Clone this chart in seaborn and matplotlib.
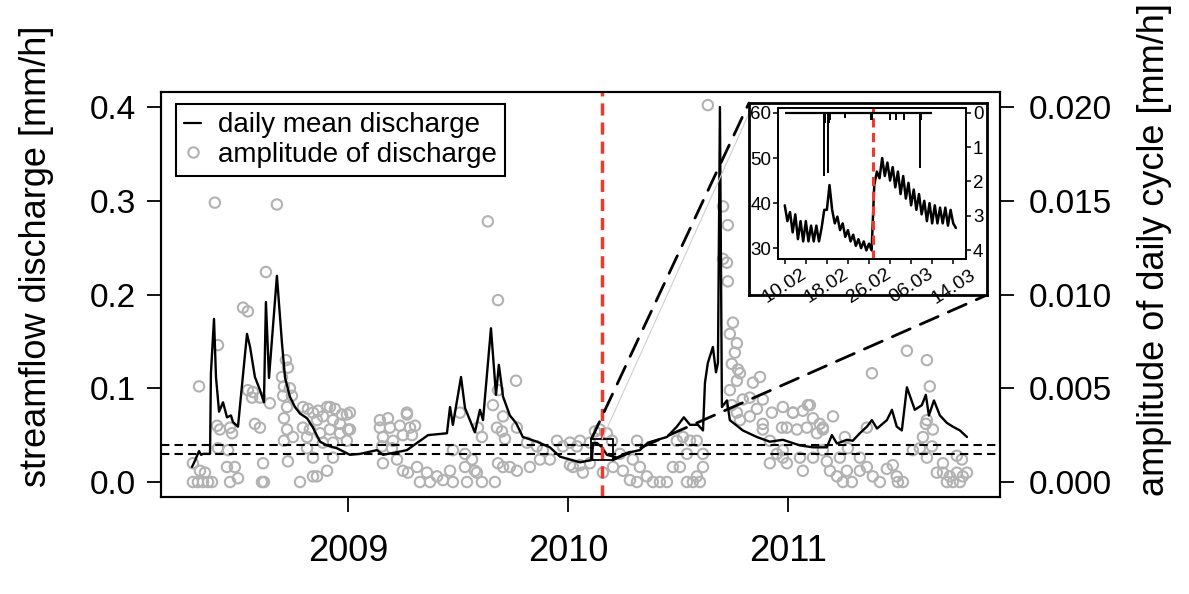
import numpy as np
import pandas as pd
import matplotlib
matplotlib.use("Agg")
import matplotlib.pyplot as plt
import seaborn as sns
from matplotlib.patches import Rectangle, ConnectionPatch
from matplotlib.lines import Line2D

# ---------------- data ----------------
# daily mean discharge [mm/h], time in decimal years
q_year = [2008.291, 2008.305, 2008.323, 2008.332, 2008.341, 2008.368, 2008.373, 2008.377, 2008.391, 2008.400,
          2008.414, 2008.432, 2008.450, 2008.468, 2008.477, 2008.500, 2008.541, 2008.555, 2008.577, 2008.600,
          2008.618, 2008.627, 2008.641, 2008.677, 2008.700, 2008.714, 2008.736, 2008.759, 2008.782, 2008.814,
          2008.841, 2008.873, 2008.905, 2008.950, 2009.009, 2009.055, 2009.132, 2009.159, 2009.205, 2009.268,
          2009.364, 2009.450, 2009.464, 2009.477, 2009.514, 2009.532, 2009.577, 2009.600, 2009.614, 2009.650,
          2009.673, 2009.686, 2009.705, 2009.736, 2009.764, 2009.795, 2009.859, 2009.918, 2009.964, 2010.055,
          2010.109, 2010.114, 2010.132, 2010.155, 2010.177, 2010.223, 2010.268, 2010.327, 2010.364, 2010.450,
          2010.495, 2010.527, 2010.555, 2010.591, 2010.614, 2010.623, 2010.636, 2010.659, 2010.673, 2010.682,
          2010.691, 2010.700, 2010.723, 2010.736, 2010.795, 2010.859, 2010.918, 2010.977, 2011.055, 2011.114,
          2011.177, 2011.200, 2011.223, 2011.268, 2011.295, 2011.327, 2011.359, 2011.382, 2011.405, 2011.450,
          2011.473, 2011.495, 2011.518, 2011.541, 2011.577, 2011.609, 2011.627, 2011.641, 2011.664, 2011.691,
          2011.723, 2011.750, 2011.782, 2011.814]
q_val = [0.016, 0.023, 0.033, 0.029, 0.030, 0.030, 0.030, 0.116, 0.174, 0.112,
         0.075, 0.085, 0.069, 0.071, 0.064, 0.059, 0.158, 0.144, 0.112, 0.098,
         0.085, 0.192, 0.111, 0.220, 0.148, 0.111, 0.091, 0.080, 0.073, 0.068,
         0.058, 0.043, 0.039, 0.036, 0.029, 0.030, 0.034, 0.029, 0.031, 0.034,
         0.050, 0.052, 0.080, 0.061, 0.112, 0.079, 0.053, 0.077, 0.066, 0.164,
         0.093, 0.125, 0.091, 0.071, 0.063, 0.048, 0.043, 0.037, 0.027, 0.021,
         0.0235, 0.0416, 0.0416, 0.037, 0.029, 0.026, 0.031, 0.034, 0.042, 0.048,
         0.059, 0.069, 0.061, 0.061, 0.055, 0.106, 0.127, 0.144, 0.117, 0.127,
         0.400, 0.080, 0.087, 0.066, 0.055, 0.048, 0.043, 0.045, 0.039, 0.037,
         0.037, 0.050, 0.041, 0.045, 0.044, 0.052, 0.059, 0.066, 0.057, 0.066,
         0.077, 0.059, 0.055, 0.101, 0.077, 0.082, 0.093, 0.071, 0.087, 0.071,
         0.063, 0.059, 0.055, 0.048]

# amplitude of the daily discharge cycle [mm/h], time in decimal years
amp_year_2008 = [2008.395, 2008.677, 2008.627, 2008.523, 2008.545, 2008.409, 2008.323,
                 2008.718, 2008.727, 2008.700, 2008.709, 2008.736, 2008.745, 2008.545, 2008.568, 2008.564,
                 2008.600, 2008.645, 2008.705, 2008.723,
                 2008.405, 2008.418, 2008.464, 2008.473, 2008.577, 2008.600, 2008.709, 2008.723, 2008.709,
                 2008.750, 2008.409, 2008.455, 2008.614, 2008.727, 2008.450, 2008.486, 2008.295, 2008.327, 2008.350,
                 2008.295, 2008.318, 2008.341, 2008.364, 2008.382, 2008.464, 2008.500, 2008.609, 2008.618,
                 2008.782, 2008.841, 2008.859, 2008.905, 2008.932, 2008.841, 2008.814,
                 2008.795, 2008.818, 2008.841, 2008.864, 2008.905, 2008.918, 2008.941, 2008.973, 2008.995,
                 2008.859, 2008.886, 2008.932, 2008.964, 2009.000, 2008.795, 2008.827, 2008.873, 2008.918,
                 2008.964, 2008.995, 2008.886, 2008.932, 2008.814]
amp_val_2008 = [0.0149, 0.0148, 0.0112, 0.0093, 0.0091, 0.0073, 0.0051,
                0.0065, 0.0061, 0.0056, 0.0051, 0.0050, 0.0046, 0.0049, 0.0048, 0.0045,
                0.0045, 0.0042, 0.0046, 0.0040,
                0.0030, 0.0028, 0.0029, 0.0026, 0.0031, 0.0029, 0.0034, 0.0028, 0.0022,
                0.0024, 0.0018, 0.0017, 0.0010, 0.0011, 0.0008, 0.0008, 0.0010, 0.0006, 0.0005,
                0.0, 0.0, 0.0, 0.0, 0.0, 0.0, 0.0002, 0.0, 0.0,
                0.0, 0.0003, 0.0003, 0.0006, 0.0013, 0.0013, 0.0018,
                0.0040, 0.0039, 0.0037, 0.0038, 0.0040, 0.0040, 0.0039, 0.0036, 0.0036,
                0.0033, 0.0035, 0.0033, 0.0031, 0.0028, 0.0029, 0.0028, 0.0026, 0.0028,
                0.0026, 0.0022, 0.0021, 0.0021, 0.0024]

amp_year_2009 = [2009.009, 2009.009, 2009.145, 2009.182, 2009.191, 2009.236, 2009.268, 2009.282, 2009.305,
                 2009.159, 2009.205, 2009.250, 2009.291, 2009.155, 2009.200, 2009.159, 2009.223, 2009.268, 2009.145,
                 2009.250, 2009.273, 2009.314, 2009.327, 2009.359, 2009.373, 2009.405, 2009.432, 2009.464,
                 2009.477, 2009.541, 2009.532, 2009.564, 2009.577, 2009.609, 2009.586, 2009.477, 2009.532,
                 2009.636, 2009.682, 2009.764, 2009.682,
                 2009.509, 2009.609, 2009.591, 2009.659, 2009.677, 2009.700, 2009.705, 2009.714, 2009.768,
                 2009.668, 2009.682, 2009.705, 2009.736, 2009.768, 2009.814, 2009.859, 2009.886, 2009.950,
                 2009.977, 2010.009, 2010.055, 2009.827, 2009.873, 2009.918]
amp_val_2009 = [0.0037, 0.0028, 0.0029, 0.0034, 0.0029, 0.0030, 0.0036, 0.0029, 0.0030,
                0.0024, 0.0022, 0.0025, 0.0025, 0.0019, 0.0018, 0.0010, 0.0012, 0.0037, 0.0033,
                0.0006, 0.0005, 0.0008, 0.0, 0.0005, 0.0, 0.0003, 0.0001, 0.0006,
                0.0, 0.0, 0.0008, 0.0012, 0.0006, 0.0, 0.0005, 0.0017, 0.0015,
                0.0139, 0.0097, 0.0054, 0.0049,
                0.0037, 0.0024, 0.0029, 0.0041, 0.0029, 0.0027, 0.0035, 0.0023, 0.0029,
                0.0, 0.0010, 0.0008, 0.0008, 0.0006, 0.0021, 0.0019, 0.0017, 0.0022,
                0.0019, 0.0009, 0.0009, 0.0008, 0.0012, 0.0012]

amp_year_2010 = [2010.009, 2010.041, 2010.023, 2010.068, 2010.100, 2010.145, 2010.177, 2010.159,
                 2010.205, 2010.236, 2010.250, 2010.295, 2010.282, 2010.327, 2010.314, 2010.359,
                 2010.386, 2010.418, 2010.450, 2010.314, 2010.055, 2010.100, 2010.123, 2010.200,
                 2010.495, 2010.523, 2010.555, 2010.586, 2010.541, 2010.614, 2010.477, 2010.509,
                 2010.614, 2010.541, 2010.568, 2010.600, 2010.586,
                 2010.636, 2010.705, 2010.727, 2010.705, 2010.723, 2010.727, 2010.750, 2010.736,
                 2010.768, 2010.759, 2010.745, 2010.773, 2010.768, 2010.782, 2010.736, 2010.745,
                 2010.768, 2010.782, 2010.795, 2010.841, 2010.873, 2010.827, 2010.859, 2010.886,
                 2010.827, 2010.886, 2010.927, 2010.973,
                 2010.886, 2010.918, 2010.950, 2010.918, 2010.977, 2010.995]
amp_val_2010 = [0.0021, 0.0019, 0.0008, 0.0005, 0.0010, 0.0028, 0.0026, 0.0005,
                0.0008, 0.0015, 0.0006, 0.0012, 0.0001, 0.0008, 0.0, 0.0003,
                0.0, 0.0, 0.0, 0.0022, 0.0022, 0.0021, 0.0027, 0.0022,
                0.0022, 0.0024, 0.0022, 0.0022, 0.0015, 0.0015, 0.0008, 0.0008,
                0.0008, 0.0, 0.0, 0.0, 0.0003,
                0.0201, 0.0147, 0.0137, 0.0119, 0.0117, 0.0107, 0.0085, 0.0079,
                0.0074, 0.0069, 0.0063, 0.0060, 0.0054, 0.0058, 0.0049, 0.0041,
                0.0037, 0.0033, 0.0044, 0.0053, 0.0056, 0.0045, 0.0039, 0.0044,
                0.0035, 0.0031, 0.0037, 0.0029,
                0.0028, 0.0022, 0.0015, 0.0010, 0.0013, 0.0010]

amp_year_2011 = [2011.023, 2011.100, 2011.159, 2011.205,
                 2011.382, 2011.541, 2011.632, 2011.645, 2011.627,
                 2010.977, 2011.023, 2011.068, 2011.091, 2011.114, 2011.145, 2010.995, 2011.041, 2011.086,
                 2011.132, 2011.159, 2010.977, 2011.055, 2011.068, 2011.114, 2011.159, 2011.177,
                 2011.191, 2011.223, 2011.250, 2011.291, 2011.268, 2011.327, 2011.359, 2011.386, 2011.418,
                 2011.450, 2011.477, 2011.495, 2011.523, 2011.500, 2011.236, 2011.327, 2011.259, 2011.273,
                 2011.359,
                 2011.600, 2011.632, 2011.655, 2011.632, 2011.659, 2011.614, 2011.568, 2011.677, 2011.705,
                 2011.736, 2011.768, 2011.795, 2011.814, 2011.723, 2011.750, 2011.782, 2011.705, 2011.791,
                 2011.768]
amp_val_2011 = [0.0037, 0.0041, 0.0029, 0.0035,
                0.0058, 0.0070, 0.0065, 0.0051, 0.0031,
                0.0040, 0.0037, 0.0038, 0.0041, 0.0034, 0.0031, 0.0029, 0.0028, 0.0029,
                0.0026, 0.0028, 0.0017, 0.0013, 0.0006, 0.0013, 0.0017, 0.0011,
                0.0006, 0.0003, 0.0, 0.0, 0.0006, 0.0006, 0.0008, 0.0003, 0.0,
                0.0007, 0.0009, 0.0003, 0.0, 0.0, 0.0013, 0.0013, 0.0024, 0.0018,
                0.0029,
                0.0018, 0.0013, 0.0019, 0.0033, 0.0028, 0.0024, 0.0017, 0.0005, 0.0005,
                0.0003, 0.0005, 0.0003, 0.0005, 0.0, 0.0, 0.0, 0.0010, 0.0012,
                0.0014]

threshold_levels = [0.03, 0.04]          # horizontal dashed reference levels
event_time = "2010-02-26 16:00"          # red dashed marker

# inset: discharge sampled every 12 h from 10.02.2010 (l/s) and rainfall (mm)
inset_start = "2010-02-10 00:00"
inset_q = [39.5, 36.0, 38.0, 33.5, 37.5, 32.0, 36.0, 31.5, 36.0, 31.5, 35.0, 31.5, 35.0, 31.5,
           34.5, 38.5, 38.5, 44.0, 38.5, 35.5, 37.0, 34.0, 35.5, 32.5, 34.0, 31.5, 33.0, 30.5,
           32.0, 30.0, 31.5, 29.5, 31.0, 29.5, 44.0, 47.0, 45.5, 50.0, 46.0, 49.0, 45.0, 48.0,
           43.5, 47.0, 42.0, 46.0, 41.0, 44.5, 39.5, 43.0, 38.5, 42.0, 37.5, 40.5, 36.0, 40.0,
           35.5, 39.5, 35.5, 39.0, 35.5, 39.0, 35.0, 38.5, 35.5, 34.5]
rain_day = [7.4, 7.55, 8.25, 8.4, 8.55, 11.4, 16.3, 16.5, 20.0, 21.2, 22.6, 25.6, 25.8]
rain_mm = [1.85, 0.3, 1.75, 0.3, 0.2, 0.15, 0.2, 0.2, 0.2, 0.2, 0.2, 1.6, 0.2]
rain_record_days = [0.0, 27.9]
inset_range = ["2010-02-08 17:00", "2010-03-16 10:00"]
inset_tick_dates = ["2010-02-10", "2010-02-18", "2010-02-26", "2010-03-06", "2010-03-14"]
inset_tick_labels = ["10.02", "18.02", "26.02", "06.03", "14.03"]
inset_minor_dates = ["2010-02-14", "2010-02-22", "2010-03-02", "2010-03-10"]
zoom_q_range = [0.0235, 0.0455]         # discharge range of the inset in mm/h

year_ticks = [2009, 2010, 2011]
q_ticks = [0.0, 0.1, 0.2, 0.3, 0.4]
amp_ticks = [0.0, 0.005, 0.010, 0.015, 0.020]

# ---------------- helpers ----------------
def dec_year(ts):
    ts = pd.Timestamp(ts)
    ndays = 366 if ts.is_leap_year else 365
    return ts.year + (ts.dayofyear - 1 + (ts.hour + ts.minute / 60) / 24) / ndays

amp_year = amp_year_2008 + amp_year_2009 + amp_year_2010 + amp_year_2011
amp_val = amp_val_2008 + amp_val_2009 + amp_val_2010 + amp_val_2011

GRAY = "#b2b2b2"
RED = "#ee3a2a"

sns.set_theme(style="ticks")
plt.rcParams['font.family'] = ['Liberation Sans', 'DejaVu Sans']
for k in ('text.color', 'axes.labelcolor', 'xtick.color', 'ytick.color', 'axes.edgecolor'):
    plt.rcParams[k] = 'black'

fig = plt.figure(figsize=(11.89, 5.94), dpi=100)
ax = fig.add_axes([0.1354, 0.1633, 0.7056, 0.6818])
ax2 = ax.twinx()

# amplitude circles (right axis)
sns.scatterplot(x=amp_year, y=amp_val, ax=ax2, marker='o', s=56, legend=False)
pts = ax2.collections[-1]
pts.set_facecolor('none')
pts.set_edgecolor(GRAY)
pts.set_linewidth(1.5)

# discharge line (left axis)
sns.lineplot(x=q_year, y=q_val, ax=ax, color='black', linewidth=1.7,
             estimator=None, sort=False, legend=False)
for lev in threshold_levels:
    ax.axhline(lev, color='black', lw=1.5, ls=(0, (4, 2.5)))
ev_dec = dec_year(event_time)
ax.axvline(ev_dec, color=RED, lw=2.5, ls=(0, (3.5, 2)))

bx0, bx1 = dec_year(inset_range[0]), dec_year(inset_range[1])
by0, by1 = zoom_q_range
ax.add_patch(Rectangle((bx0, by0), bx1 - bx0, by1 - by0, fill=False, ec='black', lw=1.3, zorder=4))

ax.set_zorder(ax2.get_zorder() + 1)
ax.patch.set_visible(False)

ax.set_xlim(2008.150, 2011.964)
ax.set_ylim(-0.016, 0.416)
ax2.set_ylim(-0.0008, 0.0208)
ax.set_xticks(year_ticks)
ax.set_xticklabels([str(y) for y in year_ticks])
ax.set_yticks(q_ticks)
ax.set_yticklabels([f"{v:.1f}" for v in q_ticks])
ax2.set_yticks(amp_ticks)
ax2.set_yticklabels([f"{v:.3f}" for v in amp_ticks])

for a in (ax, ax2):
    for s in a.spines.values():
        s.set_color('black')
        s.set_linewidth(1.5)
ax.tick_params(axis='x', length=11, width=1.3, labelsize=26, pad=16, color='black', top=False)
ax.tick_params(axis='y', length=10, width=1.3, labelsize=24, pad=8, color='black', right=False)
ax2.tick_params(axis='y', length=10, width=1.3, labelsize=24, pad=11, color='black')

ax.set_xlabel("")
ax.set_ylabel("streamflow discharge [mm/h]", fontsize=26)
ax.yaxis.set_label_coords(-0.1275, 0.595)
ax2.set_ylabel("amplitude of daily cycle [mm/h]", fontsize=26)
ax2.yaxis.set_label_coords(1.163, 0.61)

handles = [Line2D([], [], color='black', lw=1.6),
           Line2D([], [], ls='none', marker='o', mfc='none', mec=GRAY, ms=7.5, mew=1.5)]
leg = ax.legend(handles, ["daily mean discharge", "amplitude of discharge"],
                loc='upper left', bbox_to_anchor=(0.0179, 0.970), fontsize=20,
                frameon=True, fancybox=False, edgecolor='black', framealpha=1,
                borderpad=0.3, labelspacing=0.12, handlelength=0.6, handletextpad=0.6,
                borderaxespad=0)
leg.get_frame().set_linewidth(1.5)

# ---------------- inset ----------------
frame = fig.add_axes([0.6299, 0.5034, 0.2002, 0.3232])
frame.set_xticks([])
frame.set_yticks([])
frame.set_facecolor('white')
for s in frame.spines.values():
    s.set_color('black')
    s.set_linewidth(2)
frame.set_zorder(10)

axi = fig.add_axes([0.6543, 0.5640, 0.1581, 0.2542])
axi.set_zorder(11)
axr = axi.twinx()
axr.set_zorder(12)
axr.patch.set_visible(False)

inset_time = pd.date_range(inset_start, periods=len(inset_q), freq="12h")
sns.lineplot(x=inset_time, y=inset_q, ax=axi, color='black', linewidth=1.8,
             estimator=None, legend=False)
axi.axvline(pd.Timestamp(event_time), color=RED, lw=2.2, ls=(0, (3, 1.8)))

t0 = pd.Timestamp(inset_start)
rain_time = [t0 + pd.Timedelta(days=d) for d in rain_day]
axr.vlines(rain_time, 0, rain_mm, color='black', lw=1.4)
axr.hlines(0, t0 + pd.Timedelta(days=rain_record_days[0]),
           t0 + pd.Timedelta(days=rain_record_days[1]), color='black', lw=1.6)

axi.set_xlim(pd.Timestamp(inset_range[0]), pd.Timestamp(inset_range[1]))
axi.set_ylim(27.6, 61.1)
axr.set_ylim(4.26, -0.14)
axi.set_yticks([30, 40, 50, 60])
axr.set_yticks([0, 1, 2, 3, 4])
axi.set_xticks(pd.to_datetime(inset_tick_dates))
axi.set_xticks(pd.to_datetime(inset_minor_dates), minor=True)
axi.set_xticklabels(inset_tick_labels, rotation=33, ha='center', va='top')
axi.set_xlabel("")
axi.set_ylabel("")
for a in (axi, axr):
    for s in a.spines.values():
        s.set_color('black')
        s.set_linewidth(1.3)
    a.tick_params(length=3.5, width=1.1, labelsize=13.5, pad=1.5, color='black')
axi.tick_params(axis='x', which='both', length=3.5, width=1.1, pad=1.5)
axi.tick_params(axis='x', labelsize=14)

# connector lines from zoom box to inset frame
con1 = ConnectionPatch(xyA=(bx0, by1), coordsA=ax.transData, xyB=(0, 1), coordsB=frame.transAxes,
                       color='black', lw=2, ls=(0, (7, 4)))
con1.set_zorder(9)
fig.add_artist(con1)
con_g = ConnectionPatch(xyA=(ev_dec, by1), coordsA=ax.transData, xyB=(0.02, 1), coordsB=frame.transAxes,
                        color='#cfcfcf', lw=0.8)
con_g.set_zorder(8)
fig.add_artist(con_g)
con2 = ConnectionPatch(xyA=(bx1, by0), coordsA=ax.transData, xyB=(1, 0), coordsB=frame.transAxes,
                       color='black', lw=2, ls=(0, (7, 4)))
con2.set_zorder(9)
fig.add_artist(con2)

fig.savefig("out.png", dpi=100)
